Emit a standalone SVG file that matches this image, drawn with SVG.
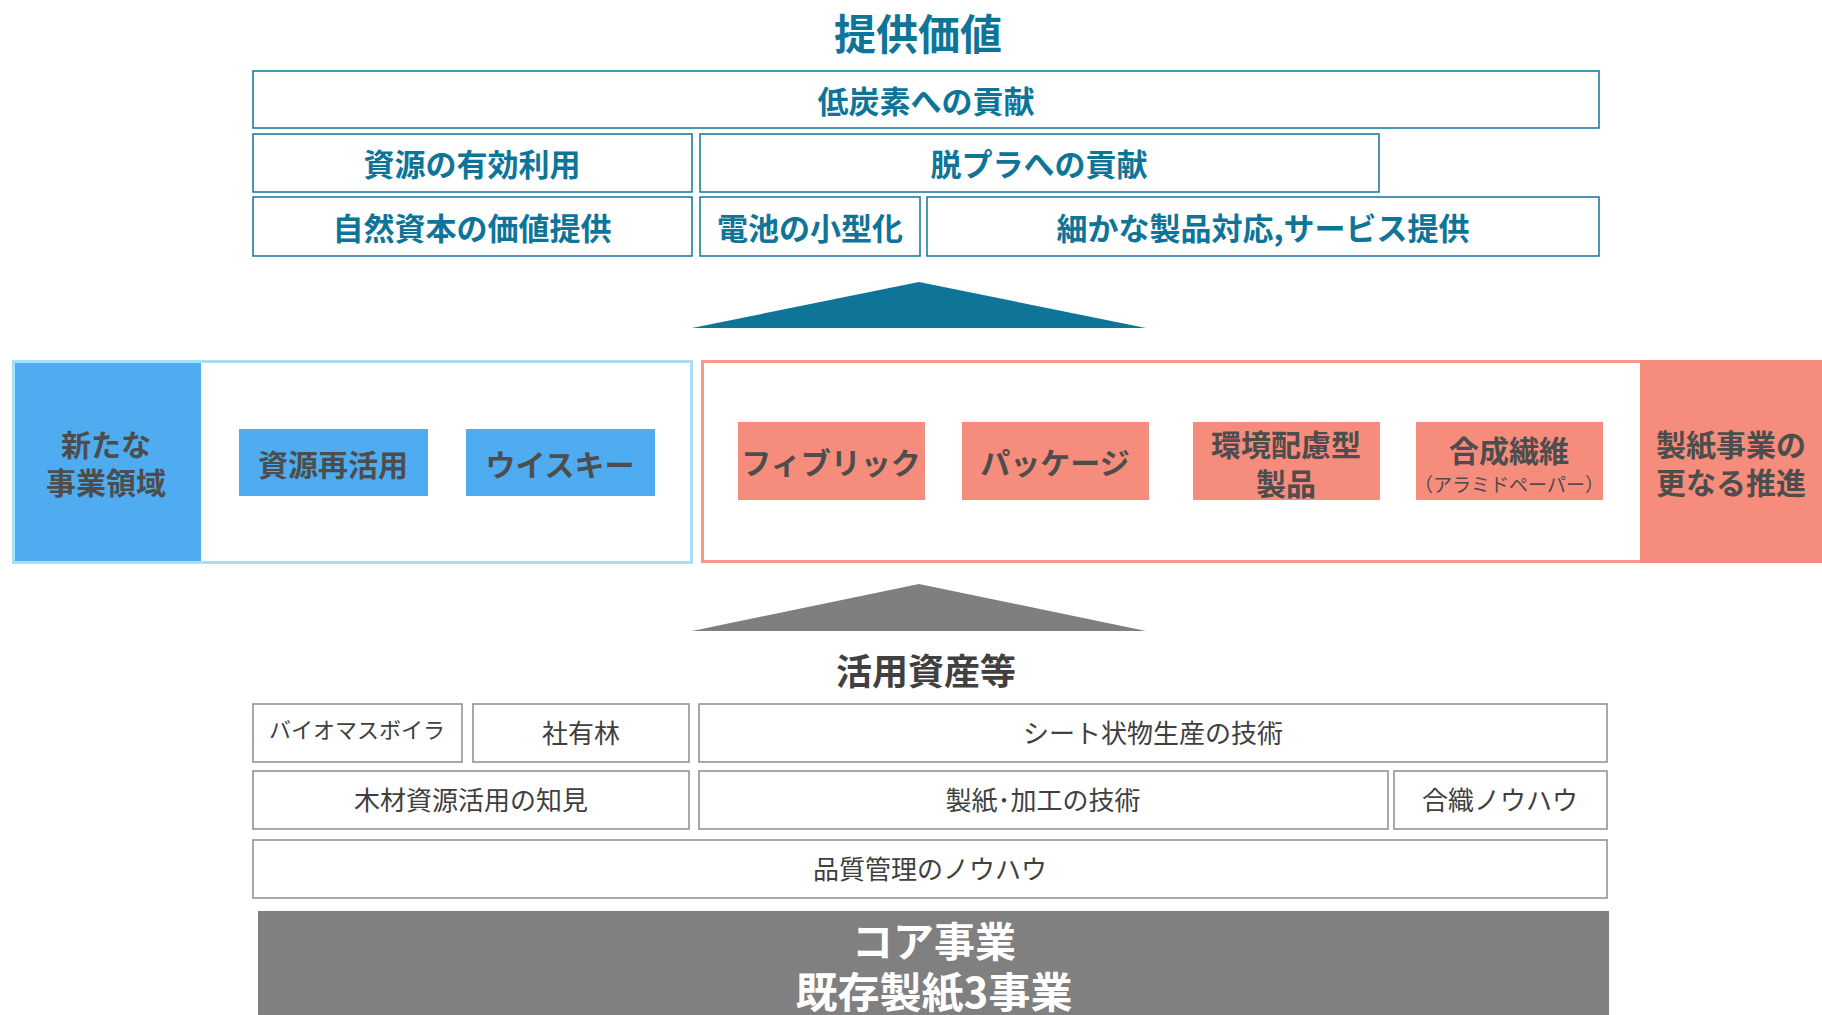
<svg xmlns="http://www.w3.org/2000/svg" width="1822" height="1015" viewBox="0 0 1822 1015">
<style>
text{font-family:"Noto Sans CJK JP","Noto Sans",sans-serif;text-anchor:middle}
.vb{fill:none;stroke:#0E7599;stroke-width:1.5}
.vt{fill:#0E7599;font-size:31px;font-weight:bold}
.ab{fill:#fff;stroke:#8C8C8C;stroke-width:1.5}
.at{fill:#404040;font-size:26px}
.pb{fill:#4FACF0}
.rb{fill:#F68C7C}
.mt{fill:#4D4D4D;font-size:30px;font-weight:bold}
</style>
<rect width="1822" height="1015" fill="#fff"/>
<g id="title-value"><text x="918" y="50" style="fill:#0E7599;font-size:42px;font-weight:bold">提供価値</text></g>
<g id="v-lowcarbon"><rect class="vb" x="253" y="71" width="1346" height="57"/><text class="vt" x="926" y="113">低炭素への貢献</text></g>
<g id="v-resource"><rect class="vb" x="253" y="134" width="439" height="58"/><text class="vt" x="472" y="176">資源の有効利用</text></g>
<g id="v-plastic"><rect class="vb" x="700" y="134" width="679" height="58"/><text class="vt" x="1039" y="176">脱プラへの貢献</text></g>
<g id="v-natural"><rect class="vb" x="253" y="197" width="439" height="59"/><text class="vt" x="472" y="240">自然資本の価値提供</text></g>
<g id="v-battery"><rect class="vb" x="700" y="197" width="220" height="59"/><text class="vt" x="810" y="240">電池の小型化</text></g>
<g id="v-service"><rect class="vb" x="927" y="197" width="672" height="59"/><text class="vt" x="1263" y="240">細かな製品対応,サービス提供</text></g>
<g id="connectors">
<polygon points="692,328 919,282 1146,328" fill="#0E7599"/>
<polygon points="692,631 919,584 1146,631" fill="#7F7F7F"/>
</g>
<g id="new-business">
<rect x="13.5" y="361.5" width="678" height="201" fill="#fff" stroke="#A8DEF6" stroke-width="3"/>
<rect class="pb" x="15" y="363" width="186" height="198"/>
<text class="mt" x="106" y="456">新たな</text>
<text class="mt" x="106" y="494">事業領域</text>
</g>
<g id="n-reuse"><rect class="pb" x="239" y="429" width="189" height="67"/><text class="mt" x="333" y="476">資源再活用</text></g>
<g id="n-whisky"><rect class="pb" x="466" y="429" width="189" height="67"/><text class="mt" x="560" y="476">ウイスキー</text></g>
<g id="paper-business">
<rect x="702.5" y="361.5" width="1130" height="200" fill="#fff" stroke="#F8998A" stroke-width="3"/>
<rect class="rb" x="1640" y="360" width="182" height="203"/>
<text class="mt" x="1731" y="456">製紙事業の</text>
<text class="mt" x="1731" y="494">更なる推進</text>
</g>
<g id="p-fibric"><rect class="rb" x="738" y="422" width="187" height="78"/><text class="mt" x="831" y="474">フィブリック</text></g>
<g id="p-package"><rect class="rb" x="962" y="422" width="187" height="78"/><text class="mt" x="1055" y="474">パッケージ</text></g>
<g id="p-eco"><rect class="rb" x="1193" y="422" width="187" height="78"/><text class="mt" x="1286" y="456">環境配慮型</text><text class="mt" x="1286" y="495">製品</text></g>
<g id="p-synthetic"><rect class="rb" x="1416" y="422" width="187" height="78"/><text class="mt" x="1509" y="462">合成繊維</text><text x="1509" y="492" style="fill:#4D4D4D;font-size:19px">（アラミドペーパー）</text></g>
<g id="title-assets"><text x="926" y="685" style="fill:#404040;font-size:36px;font-weight:bold">活用資産等</text></g>
<g id="a-boiler"><rect class="ab" x="253" y="704" width="209" height="58"/><text class="at" x="357" y="738" style="font-size:22px">バイオマスボイラ</text></g>
<g id="a-forest"><rect class="ab" x="473" y="704" width="216" height="58"/><text class="at" x="581" y="743">社有林</text></g>
<g id="a-sheet"><rect class="ab" x="699" y="704" width="908" height="58"/><text class="at" x="1153" y="743">シート状物生産の技術</text></g>
<g id="a-wood"><rect class="ab" x="253" y="771" width="436" height="58"/><text class="at" x="471" y="810">木材資源活用の知見</text></g>
<g id="a-paper"><rect class="ab" x="699" y="771" width="689" height="58"/><text class="at" x="1043" y="810">製紙･加工の技術</text></g>
<g id="a-synth"><rect class="ab" x="1394" y="771" width="213" height="58"/><text class="at" x="1500" y="810">合織ノウハウ</text></g>
<g id="a-quality"><rect class="ab" x="253" y="840" width="1354" height="58"/><text class="at" x="930" y="879">品質管理のノウハウ</text></g>
<g id="core">
<rect x="258" y="911" width="1351" height="110" fill="#808080"/>
<text x="934" y="957" style="fill:#fff;font-size:41px;font-weight:bold">コア事業</text>
<text x="934" y="1008" style="fill:#fff;font-size:42px;font-weight:bold">既存製紙3事業</text>
</g>
</svg>
